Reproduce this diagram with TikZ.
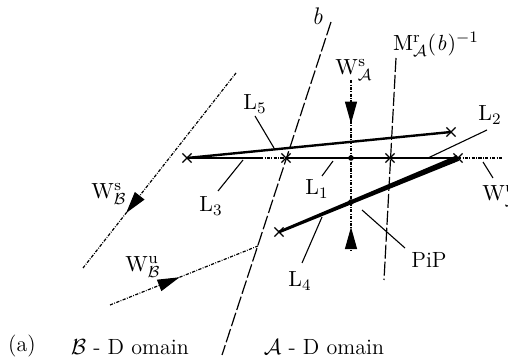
\documentclass[tikz,border=0pt]{standalone}
\usetikzlibrary{arrows.meta,decorations.markings,calc,shapes.misc}
\tikzset{headtip/.tip={Triangle[length=11pt,width=6pt]}}
\begin{document}
\begin{tikzpicture}[x=0.5pt,y=-0.5pt,
  lbl/.style={inner sep=0pt,font=\fontsize{11}{13}\selectfont},
  leader/.style={line width=0.55pt},
  longdash/.style={line width=0.6pt,dash pattern=on 7pt off 1.5pt},
  dashdot/.style={line width=0.6pt,dash pattern=on 1.6pt off 0.7pt on 0.4pt off 0.7pt},
  thickline/.style={line width=1.4pt},
  crossmk/.style={draw,cross out,minimum size=4pt,inner sep=0pt,line width=0.6pt},
  dotmk/.style={circle,fill,minimum size=2.8pt,inner sep=0pt}
]
\useasboundingbox (0,0) rectangle (508,357);

% coordinates
\coordinate (bT) at (331,22);
\coordinate (bB) at (222,355);
\coordinate (mT) at (396,58);
\coordinate (mB) at (384,280);
\coordinate (wsaT) at (351,80);
\coordinate (wsaB) at (351,251);
\coordinate (wsbT) at (236,73);
\coordinate (wsbB) at (83,268);
\coordinate (wubL) at (110,305);
\coordinate (wubR) at (258,246);
\coordinate (wuaR) at (502,158);
\coordinate (l3e) at (260,158);

% markers
\node[crossmk] (cL) at (187,158) {};
\node[crossmk] (cB) at (286,158) {};
\node[crossmk] (cM) at (390,158) {};
\node[crossmk] (cR) at (458,158) {};
\node[crossmk] (c5) at (451,132) {};
\node[crossmk] (c4) at (279,232) {};
\node[dotmk] (d1) at (351,158) {};
\node[dotmk] (d2) at (351,202) {};

% long dashed lines
\draw[longdash] (bT) -- (bB);
\draw[longdash] (mT) -- (mB);

% W lines
\draw[dashdot,postaction={decorate},decoration={markings,
   mark=at position 0.255 with {\arrow{headtip}},
   mark=at position 0.86 with {\arrowreversed{headtip}}}]
   (wsaT) -- (wsaB);
\draw[dashdot,postaction={decorate},decoration={markings,
   mark=at position 0.72 with {\arrow{headtip}}}]
   (wsbT) -- (wsbB);
\draw[dashdot,postaction={decorate},decoration={markings,
   mark=at position 0.47 with {\arrow{headtip}}}]
   (wubL) -- (wubR);
\draw[dashdot] (cR.center) -- (wuaR);

% thick lines
\draw[thickline] (cL.center) -- (l3e);
\draw[dashdot] (l3e) -- (cB.center);
\draw[thickline] (cB.center) -- (cR.center);
\draw[line width=1.2pt] (cL.center) -- (c5.center);
\fill ($(c4.center)!0.7pt!90:(cR.center)$) -- ($(c4.center)!0.7pt!-90:(cR.center)$)
   -- ($(cR.center)!1.5pt!90:(c4.center)$) -- ($(cR.center)!1.5pt!-90:(c4.center)$) -- cycle;

% labels
\node[lbl,font=\fontsize{12}{14}\selectfont] (lb) at (318,16) {$\mathit{b}$};
\node[lbl] (lm) at (436,44) {$\mathrm{M}^{\mathrm{r}}_{\mathcal{A}}(\mathit{b})^{-1}$};
\node[lbl] (lwsa) at (354,70) {$\mathrm{W}^{\mathrm{s}}_{\mathcal{A}}$};
\node[lbl] (l5) at (255,104) {$\mathrm{L}_5$};
\node[lbl] (l2) at (490,115) {$\mathrm{L}_2$};
\node[lbl] (lwsb) at (109,194) {$\mathrm{W}^{\mathrm{s}}_{\mathcal{B}}$};
\node[lbl] (l3) at (211,206) {$\mathrm{L}_3$};
\node[lbl] (l1) at (317,189) {$\mathrm{L}_1$};
\node[lbl,anchor=west] (lwua) at (482,196) {$\mathrm{W}^{\mathrm{u}}_{\mathcal{A}}$};
\node[lbl] (l4) at (300,281) {$\mathrm{L}_4$};
\node[lbl] (lpip) at (429,260) {PiP};
\node[lbl] (lwub) at (143,267) {$\mathrm{W}^{\mathrm{u}}_{\mathcal{B}}$};
\node[lbl] (la) at (22,346) {(a)};
\node[lbl] (ldb) at (130,347) {$\mathcal{B}$ - D omain};
\node[lbl] (lda) at (324,347) {$\mathcal{A}$ - D omain};

% leaders
\coordinate (k5a) at (255,116); \coordinate (k5b) at (274,148);
\coordinate (k3a) at (218,191); \coordinate (k3b) at (243,160);
\coordinate (k1a) at (322,176); \coordinate (k1b) at (333,161);
\coordinate (k4a) at (302,263); \coordinate (k4b) at (322,217);
\coordinate (kpa) at (362,210); \coordinate (kpb) at (405,248);
\coordinate (k2a) at (428,158); \coordinate (k2b) at (487,130);
\coordinate (kua) at (483,162); \coordinate (kub) at (493,178);
\draw[leader] (k5a) -- (k5b);
\draw[leader] (k3a) -- (k3b);
\draw[leader] (k1a) -- (k1b);
\draw[leader] (k4a) -- (k4b);
\draw[leader] (kpa) -- (kpb);
\draw[leader] (k2a) -- (k2b);
\draw[leader] (kua) -- (kub);
\end{tikzpicture}
\end{document}
